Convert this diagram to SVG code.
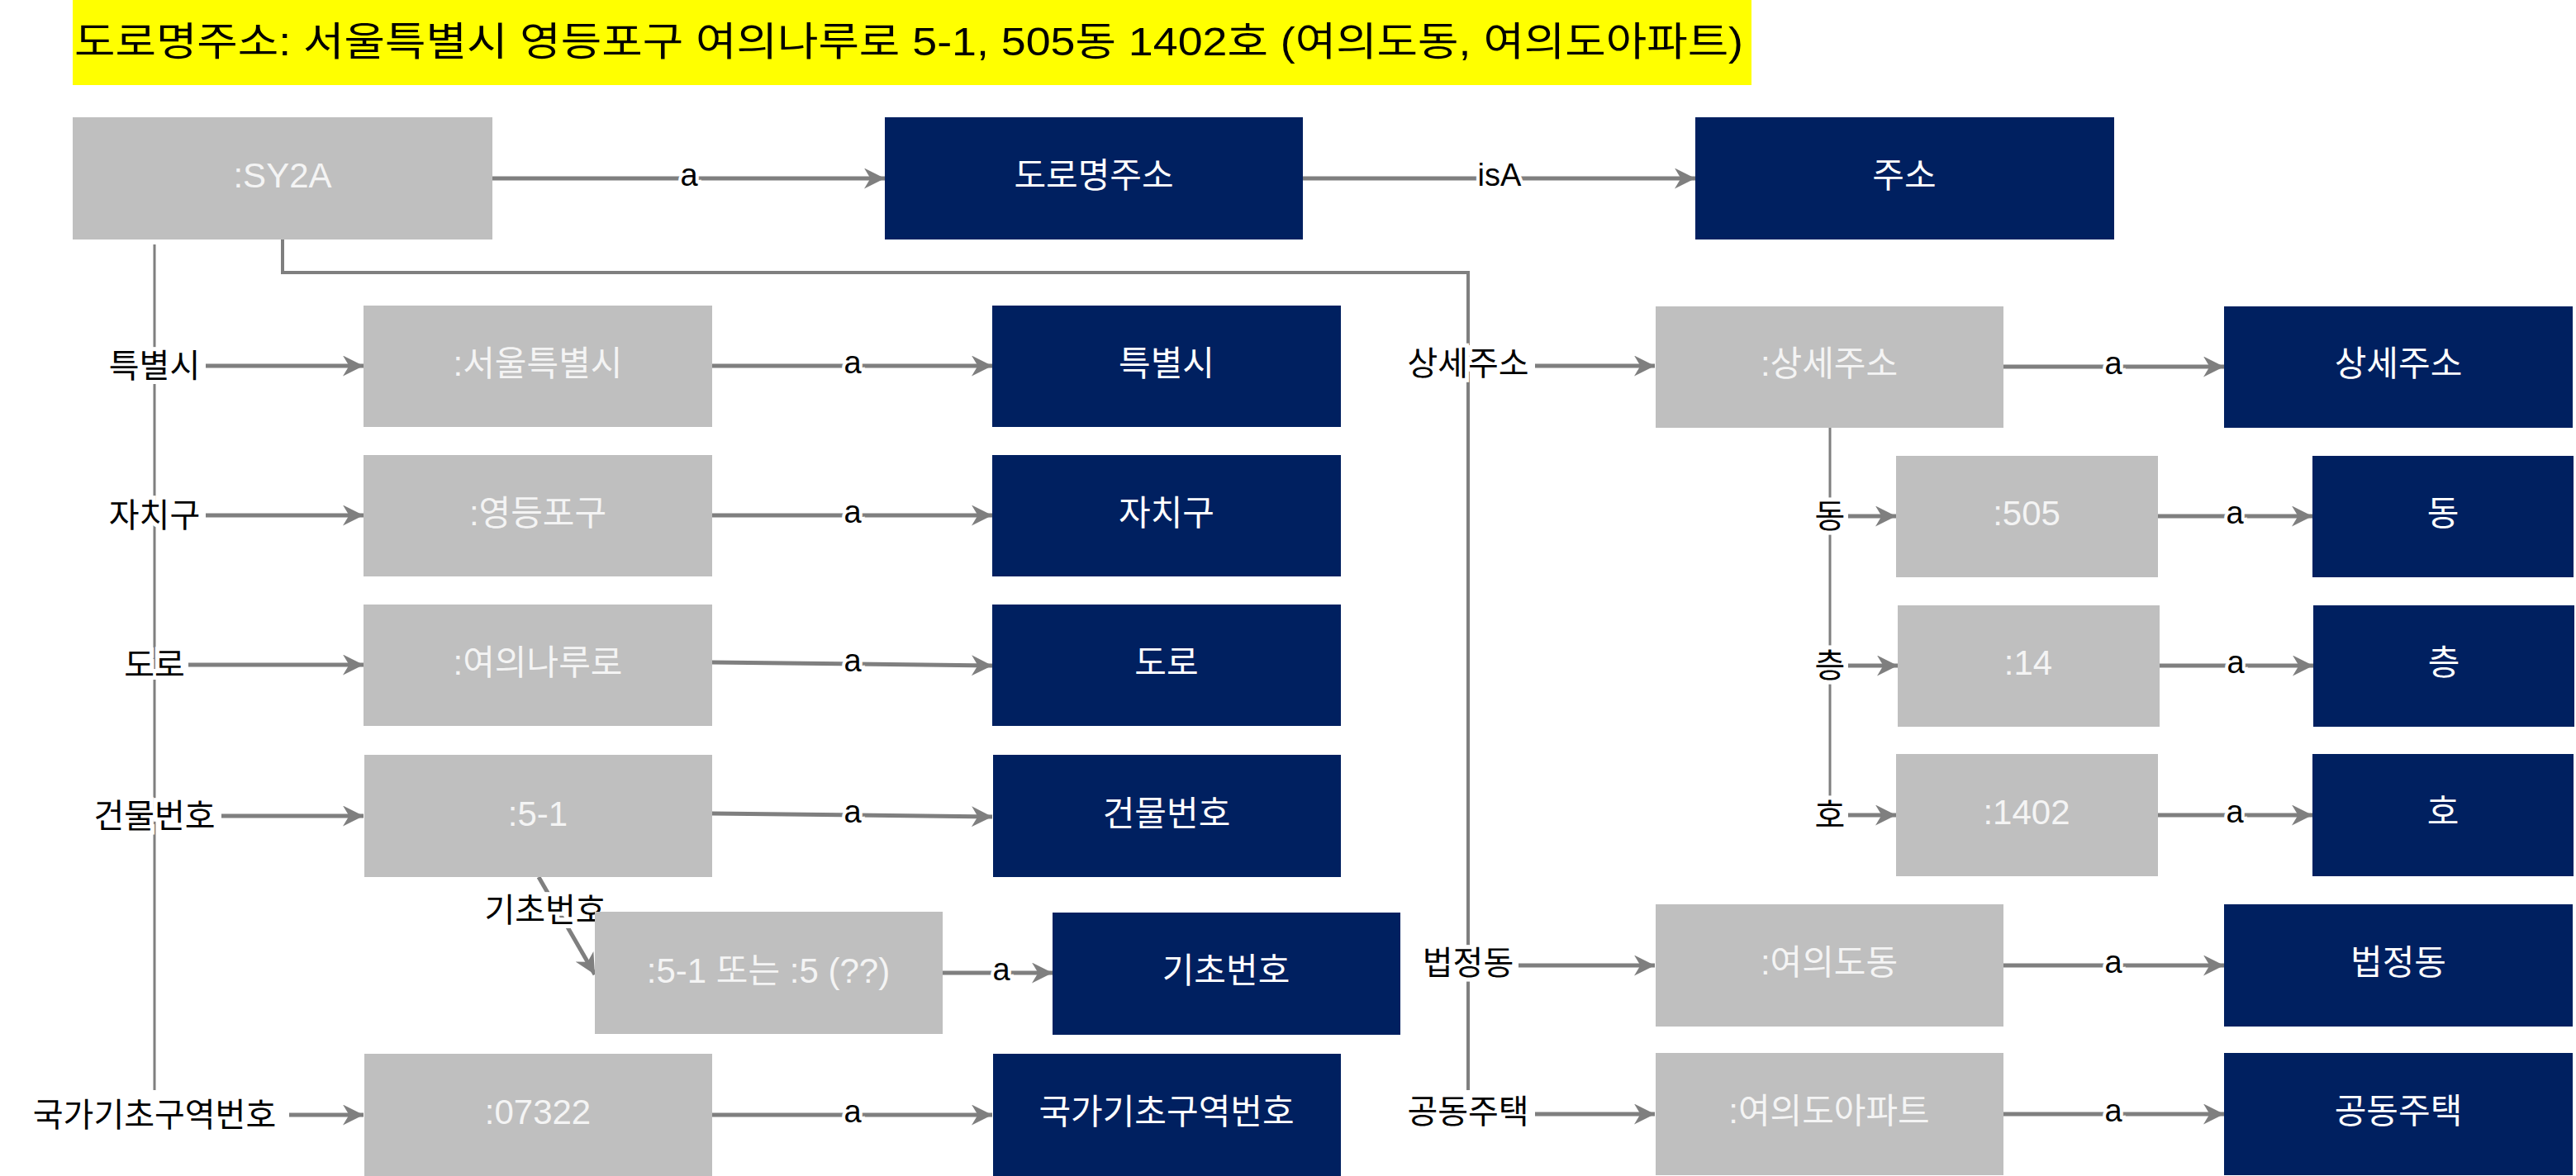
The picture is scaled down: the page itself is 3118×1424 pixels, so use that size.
<svg xmlns="http://www.w3.org/2000/svg" width="3118" height="1424" viewBox="0 0 3118 1424">
<style>
text{font-family:"Liberation Sans","Noto Sans CJK KR",sans-serif;text-anchor:middle;dominant-baseline:central}
.g{fill:#bfbfbf}.n{fill:#002060}
.gt{fill:#f4f4f4;font-size:42px}.nt{fill:#fff;font-size:42px}
.lb{fill:#000;font-size:40px;stroke:#fff;stroke-width:10px;paint-order:stroke}
.al{fill:#000;font-size:38px;stroke:#fff;stroke-width:8px;paint-order:stroke}
.c{stroke:#7f7f7f;stroke-width:4;fill:none}
.t{stroke:#7f7f7f;stroke-width:3;fill:none}
.ar{stroke:#7f7f7f;stroke-width:5;fill:none;marker-end:url(#m)}
</style>
<defs><marker id="m" viewBox="0 0 10 10" refX="10" refY="5" markerWidth="5" markerHeight="5" orient="auto" markerUnits="strokeWidth"><path d="M0,0 L10,5 L0,10 L3,5 z" fill="#7f7f7f"/></marker></defs>
<rect x="0" y="0" width="3118" height="1424" fill="#fff"/>
<g id="title"><rect x="88" y="0" width="2032" height="103" fill="#ffff00"/><text x="1100" y="50" style="font-size:48px;fill:#000" textLength="2020" lengthAdjust="spacingAndGlyphs">도로명주소: 서울특별시 영등포구 여의나루로 5-1, 505동 1402호 (여의도동, 여의도아파트)</text></g>
<g id="connectors">
<path class="t" d="M187,296 V1320"/>
<path class="c" d="M342,290 V330 H1777 V1320"/>
<path class="t" d="M2215,518 V975"/>
<path class="ar" d="M596,216 H1071"/><text class="al" x="834" y="212">a</text>
<path class="ar" d="M1577,216 H2052"/><text class="al" x="1815" y="212">isA</text>
<path class="ar" d="M249,443 H440"/><text class="lb" x="187" y="443">특별시</text>
<path class="ar" d="M249,624 H440"/><text class="lb" x="187" y="624">자치구</text>
<path class="ar" d="M228,805 H440"/><text class="lb" x="187" y="805">도로</text>
<path class="ar" d="M268,988 H440"/><text class="lb" x="187" y="988">건물번호</text>
<path class="ar" d="M350,1350 H440"/><text class="lb" x="187" y="1350">국가기초구역번호</text>
<path class="ar" d="M862,443 H1201"/><text class="al" x="1032" y="439">a</text>
<path class="ar" d="M862,624 H1201"/><text class="al" x="1032" y="620">a</text>
<path class="ar" d="M862,802 L1201,806"/><text class="al" x="1032" y="800">a</text>
<path class="ar" d="M862,985 L1201,989"/><text class="al" x="1032" y="983">a</text>
<path class="ar" d="M862,1350 H1201"/><text class="al" x="1032" y="1346">a</text>
<path class="ar" d="M652,1062 L720,1180"/><text class="lb" x="660" y="1102">기초번호</text>
<path class="ar" d="M1141,1178 H1274"/><text class="al" x="1212" y="1174">a</text>
<path class="ar" d="M1858,443 H2003"/><text class="lb" x="1777" y="440">상세주소</text>
<path class="ar" d="M1838,1169 H2003"/><text class="lb" x="1777" y="1166">법정동</text>
<path class="ar" d="M1858,1349 H2003"/><text class="lb" x="1777" y="1346">공동주택</text>
<path class="ar" d="M2425,444 H2692"/><text class="al" x="2558" y="440">a</text>
<path class="ar" d="M2425,1169 H2692"/><text class="al" x="2558" y="1165">a</text>
<path class="ar" d="M2425,1349 H2692"/><text class="al" x="2558" y="1345">a</text>
<path class="ar" d="M2237,625 H2295"/><text class="lb" x="2215" y="625">동</text>
<path class="ar" d="M2237,806 H2297"/><text class="lb" x="2215" y="806">층</text>
<path class="ar" d="M2237,987 H2295"/><text class="lb" x="2215" y="987">호</text>
<path class="ar" d="M2612,625 H2799"/><text class="al" x="2705" y="621">a</text>
<path class="ar" d="M2612,806 H2800"/><text class="al" x="2706" y="802">a</text>
<path class="ar" d="M2612,987 H2799"/><text class="al" x="2705" y="983">a</text>
</g>
<g id="sy2a"><rect class="g" x="88" y="142" width="508" height="148"/><text class="gt" x="342" y="212">:SY2A</text></g>
<g id="roadaddr"><rect class="n" x="1071" y="142" width="506" height="148"/><text class="nt" x="1324" y="212">도로명주소</text></g>
<g id="addr"><rect class="n" x="2052" y="142" width="507" height="148"/><text class="nt" x="2305" y="212">주소</text></g>
<g id="seoul"><rect class="g" x="440" y="370" width="422" height="147"/><text class="gt" x="651" y="440">:서울특별시</text></g>
<g id="city"><rect class="n" x="1201" y="370" width="422" height="147"/><text class="nt" x="1412" y="440">특별시</text></g>
<g id="ydp"><rect class="g" x="440" y="551" width="422" height="147"/><text class="gt" x="651" y="621">:영등포구</text></g>
<g id="gu"><rect class="n" x="1201" y="551" width="422" height="147"/><text class="nt" x="1412" y="621">자치구</text></g>
<g id="ynr"><rect class="g" x="440" y="732" width="422" height="147"/><text class="gt" x="651" y="802">:여의나루로</text></g>
<g id="road"><rect class="n" x="1201" y="732" width="422" height="147"/><text class="nt" x="1412" y="802">도로</text></g>
<g id="n51"><rect class="g" x="441" y="914" width="421" height="148"/><text class="gt" x="651" y="985">:5-1</text></g>
<g id="bldno"><rect class="n" x="1202" y="914" width="421" height="148"/><text class="nt" x="1412" y="985">건물번호</text></g>
<g id="basev"><rect class="g" x="720" y="1104" width="421" height="148"/><text class="gt" x="930" y="1175">:5-1 또는 :5 (??)</text></g>
<g id="baseno"><rect class="n" x="1274" y="1105" width="421" height="148"/><text class="nt" x="1484" y="1175">기초번호</text></g>
<g id="zip"><rect class="g" x="441" y="1276" width="421" height="148"/><text class="gt" x="651" y="1346">:07322</text></g>
<g id="zipc"><rect class="n" x="1202" y="1276" width="421" height="148"/><text class="nt" x="1412" y="1346">국가기초구역번호</text></g>
<g id="detail"><rect class="g" x="2004" y="371" width="421" height="147"/><text class="gt" x="2214" y="440">:상세주소</text></g>
<g id="detailc"><rect class="n" x="2692" y="371" width="422" height="147"/><text class="nt" x="2903" y="440">상세주소</text></g>
<g id="d505"><rect class="g" x="2295" y="552" width="317" height="147"/><text class="gt" x="2453" y="621">:505</text></g>
<g id="dong"><rect class="n" x="2799" y="552" width="316" height="147"/><text class="nt" x="2957" y="621">동</text></g>
<g id="f14"><rect class="g" x="2297" y="733" width="317" height="147"/><text class="gt" x="2455" y="802">:14</text></g>
<g id="floor"><rect class="n" x="2800" y="733" width="316" height="147"/><text class="nt" x="2958" y="802">층</text></g>
<g id="h1402"><rect class="g" x="2295" y="913" width="317" height="148"/><text class="gt" x="2453" y="983">:1402</text></g>
<g id="ho"><rect class="n" x="2799" y="913" width="316" height="148"/><text class="nt" x="2957" y="983">호</text></g>
<g id="yid"><rect class="g" x="2004" y="1095" width="421" height="148"/><text class="gt" x="2214" y="1165">:여의도동</text></g>
<g id="legal"><rect class="n" x="2692" y="1095" width="422" height="148"/><text class="nt" x="2903" y="1165">법정동</text></g>
<g id="apt"><rect class="g" x="2004" y="1275" width="421" height="148"/><text class="gt" x="2214" y="1345">:여의도아파트</text></g>
<g id="apth"><rect class="n" x="2692" y="1275" width="422" height="148"/><text class="nt" x="2903" y="1345">공동주택</text></g>
</svg>
